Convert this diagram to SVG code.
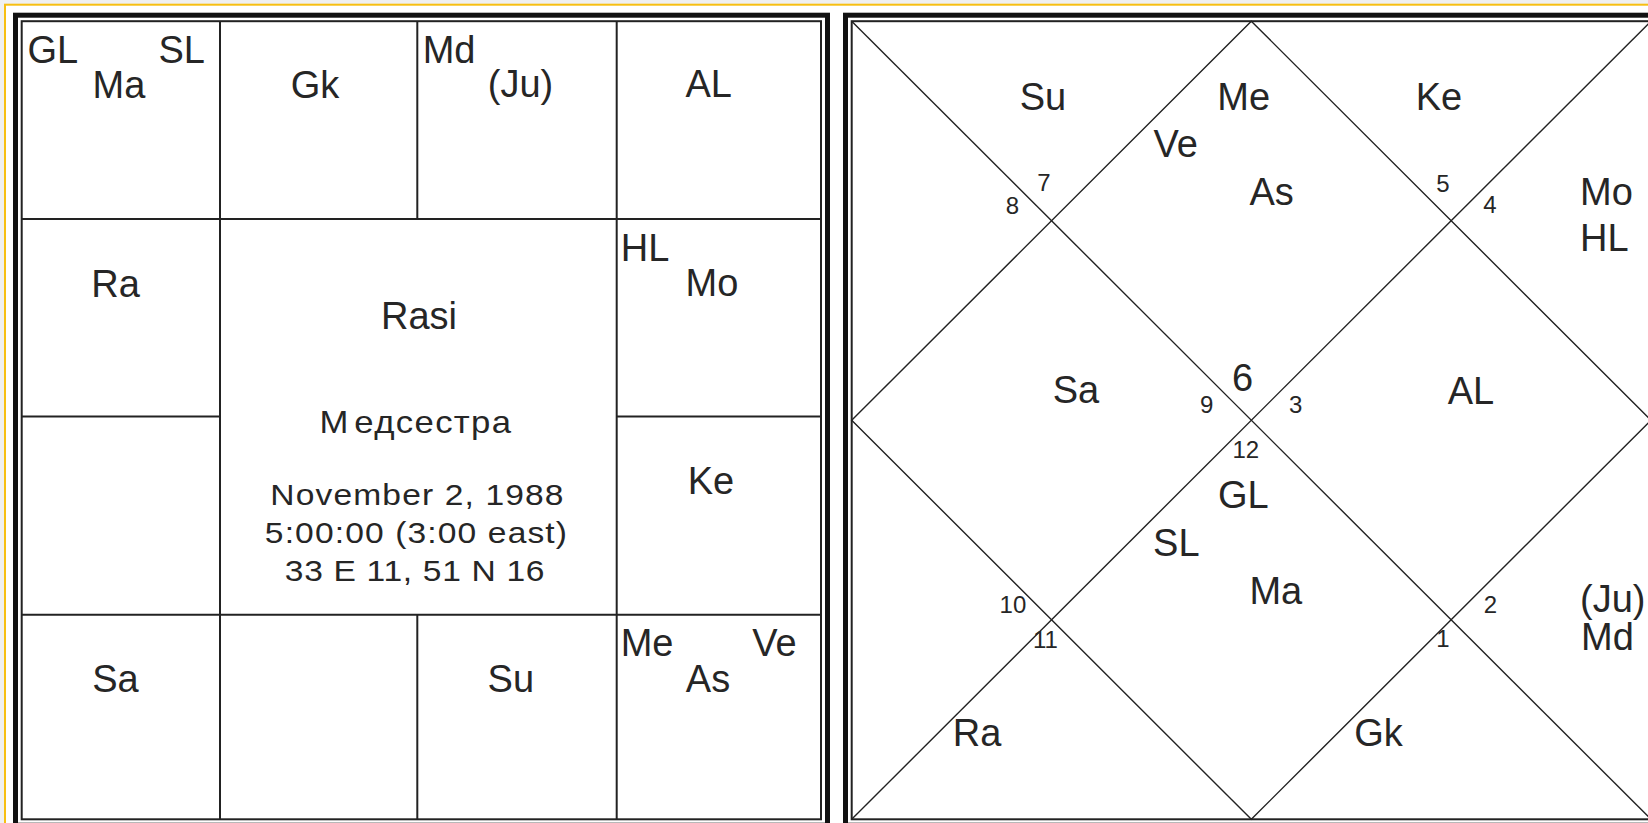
<svg xmlns="http://www.w3.org/2000/svg" width="1648" height="823" viewBox="0 0 1648 823">
<style>
.t{font-family:"Liberation Sans",Arial,sans-serif;font-size:38px;fill:#262626}
.m{text-anchor:middle}
.e{text-anchor:end}
.d{font-family:"Liberation Sans",Arial,sans-serif;font-size:24px;fill:#262626;text-anchor:middle}
.s{font-family:"Liberation Sans",Arial,sans-serif;font-size:30px;fill:#262626;text-anchor:middle;letter-spacing:1px}
.thick{fill:none;stroke:#111;stroke-width:5}
.thin{fill:none;stroke:#222;stroke-width:2}
.g{stroke:#222;stroke-width:2;fill:none}
.dg{stroke:#222;stroke-width:1.4;fill:none}
</style>
<rect x="0" y="0" width="1648" height="823" fill="#f0f0f0"/>
<rect x="5" y="4.7" width="1700" height="900" fill="#ffffff" stroke="#f7bf12" stroke-width="2"/>

<g id="connectors">
  <!-- left chart borders -->
  <rect class="thick" x="15.5" y="15.2" width="812" height="810"/>
  <rect class="thin" x="21.7" y="21.2" width="799.3" height="798.1"/>
  <!-- left grid -->
  <line class="g" x1="220" y1="21.2" x2="220" y2="819.3"/>
  <line class="g" x1="616.7" y1="21.2" x2="616.7" y2="819.3"/>
  <line class="g" x1="417.3" y1="21.2" x2="417.3" y2="219"/>
  <line class="g" x1="417.3" y1="614.7" x2="417.3" y2="819.3"/>
  <line class="g" x1="21.7" y1="219" x2="821" y2="219"/>
  <line class="g" x1="21.7" y1="614.7" x2="821" y2="614.7"/>
  <line class="g" x1="21.7" y1="416.5" x2="220" y2="416.5"/>
  <line class="g" x1="616.7" y1="416.5" x2="821" y2="416.5"/>
  <!-- right chart borders -->
  <rect class="thick" x="845.5" y="15.2" width="812" height="810"/>
  <rect class="thin" x="851.7" y="21.2" width="799.3" height="798.1"/>
  <!-- right chart diagonals -->
  <line class="dg" x1="851.7" y1="21.2" x2="1651" y2="819.3"/>
  <line class="dg" x1="1651" y1="21.2" x2="851.7" y2="819.3"/>
  <polygon class="dg" points="1251.3,21.2 1651,420.2 1251.3,819.3 851.7,420.2"/>
</g>

<g id="rasi-chart">
  <g id="cell-pi"><text class="t" x="27.5" y="62.7">GL</text><text class="t e" x="205" y="62.7">SL</text><text class="t m" x="119" y="97.7">Ma</text></g>
  <g id="cell-ar"><text class="t m" x="315" y="97.7">Gk</text></g>
  <g id="cell-ta"><text class="t" x="422.7" y="62.7">Md</text><text class="t m" x="520.5" y="97">(Ju)</text></g>
  <g id="cell-ge"><text class="t m" x="708.7" y="97">AL</text></g>
  <g id="cell-aq"><text class="t m" x="115.6" y="296.5">Ra</text></g>
  <g id="cell-cn"><text class="t" x="620.7" y="260.5">HL</text><text class="t m" x="712" y="296">Mo</text></g>
  <g id="cell-le"><text class="t m" x="711" y="493.5">Ke</text></g>
  <g id="cell-sg"><text class="t m" x="115.5" y="691.7">Sa</text></g>
  <g id="cell-li"><text class="t m" x="510.8" y="691.7">Su</text></g>
  <g id="cell-vi"><text class="t" x="620.7" y="656">Me</text><text class="t e" x="796.7" y="656">Ve</text><text class="t m" x="708" y="691.5">As</text></g>
  <g id="center-info">
    <text class="t m" x="419" y="329.3">Rasi</text>
    <text class="s" x="416" y="433.3" style="font-size:31px;letter-spacing:1.2px" transform="translate(416 0) scale(1.12 1) translate(-416 0)">М<tspan dx="4">едсестра</tspan></text>
    <text class="s" x="417.5" y="505" transform="translate(417.5 0) scale(1.12 1) translate(-417.5 0)">November 2, 1988</text>
    <text class="s" x="416.5" y="543.3" transform="translate(416.5 0) scale(1.12 1) translate(-416.5 0)">5:00:00 (3:00 east)</text>
    <text class="s" x="415" y="581" style="letter-spacing:0.6px" transform="translate(415 0) scale(1.12 1) translate(-415 0)">33 E 11, 51 N 16</text>
  </g>
</g>

<g id="north-chart">
  <g id="h7"><text class="t m" x="1043" y="110">Su</text><text class="d" x="1044" y="190.7">7</text></g>
  <g id="h6"><text class="t m" x="1243.7" y="110">Me</text><text class="t m" x="1175.8" y="156.7">Ve</text><text class="t m" x="1271.7" y="205">As</text><text class="t m" x="1242.5" y="390.7">6</text></g>
  <g id="h5"><text class="t m" x="1439" y="110">Ke</text><text class="d" x="1443" y="191.7">5</text></g>
  <g id="h4"><text class="t" x="1580" y="205">Mo</text><text class="t" x="1580" y="251">HL</text><text class="d" x="1490" y="213">4</text></g>
  <g id="h8"><text class="d" x="1012.5" y="214">8</text></g>
  <g id="h9"><text class="t m" x="1076" y="402.7">Sa</text><text class="d" x="1206.7" y="412.7">9</text></g>
  <g id="h3"><text class="t m" x="1471" y="403.5">AL</text><text class="d" x="1295.8" y="412.7">3</text></g>
  <g id="h12"><text class="d" x="1245.8" y="458.3">12</text><text class="t m" x="1243.3" y="508.3">GL</text><text class="t m" x="1176.3" y="556">SL</text><text class="t m" x="1275.8" y="604">Ma</text></g>
  <g id="h10"><text class="d" x="1012.9" y="613.3">10</text></g>
  <g id="h11"><text class="d" x="1045.5" y="648.3">11</text><text class="t m" x="977" y="746">Ra</text></g>
  <g id="h1"><text class="d" x="1443" y="647.3">1</text><text class="t m" x="1378.5" y="746">Gk</text></g>
  <g id="h2"><text class="d" x="1490.5" y="613.3">2</text><text class="t" x="1580" y="612">(Ju)</text><text class="t" x="1581" y="650">Md</text></g>
</g>
</svg>
